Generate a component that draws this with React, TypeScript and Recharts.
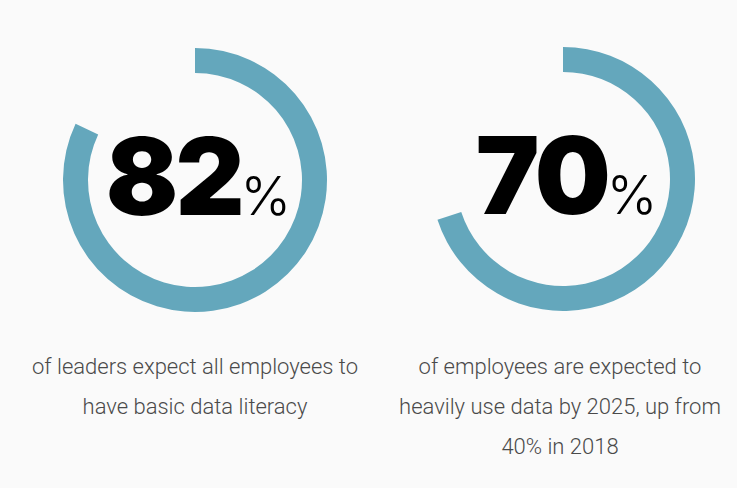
import React from "react";
import { PieChart, Pie, Cell, Label } from "recharts";

// share of respondents, one ring each
const stats = [82, 70];
const centers = [
  { cx: 195, cy: 180 },
  { cx: 563, cy: 179 },
];
const captions = [
  ["of leaders expect all employees to", "have basic data literacy"],
  ["of employees are expected to", "heavily use data by 2025, up from", "40% in 2018"],
];

const RING = "#64a7bc";
const BG = "#fafafa";

const CenterValue = ({ cx, cy, value }: any) => (
  <text x={cx + 3.5} y={cy + 35} textAnchor="middle" fill="#000">
    <tspan fontFamily="Inter, 'DejaVu Sans', sans-serif" fontWeight={900} fontSize={107} letterSpacing={-3}>
      {value}
    </tspan>
    <tspan fontFamily="Inter, 'DejaVu Sans', sans-serif" fontWeight={300} fontSize={54} dx={-1}>
      %
    </tspan>
  </text>
);

export default function App() {
  return (
    <div style={{ position: "absolute", left: 0, top: 0, width: 737, height: 488, background: BG }}>
      <PieChart width={737} height={488} margin={{ top: 0, right: 0, bottom: 0, left: 0 }}>
        {stats.map((v, i) => (
          <Pie
            key={i}
            data={[
              { name: "share", value: v },
              { name: "rest", value: 100 - v },
            ]}
            dataKey="value"
            cx={centers[i].cx}
            cy={centers[i].cy}
            innerRadius={107}
            outerRadius={132}
            startAngle={90}
            endAngle={-270}
            stroke="none"
            isAnimationActive={false}
          >
            <Cell fill={RING} />
            <Cell fill="transparent" />
            <Label
              position="center"
              content={() => <CenterValue cx={centers[i].cx} cy={centers[i].cy} value={v} />}
            />
          </Pie>
        ))}
      </PieChart>
      {captions.map((lines, i) => (
        <div
          key={i}
          style={{
            position: "absolute",
            left: centers[i].cx - 180 - (i === 1 ? 3 : 0),
            width: 360,
            top: 347,
            textAlign: "center",
            fontFamily: "Roboto, 'Noto Sans', sans-serif",
            fontWeight: 300,
            fontSize: 22,
            lineHeight: "40px",
            color: "#4a4a4a",
          }}
        >
          {lines.map((l, j) => (
            <div key={j}>{l}</div>
          ))}
        </div>
      ))}
    </div>
  );
}
